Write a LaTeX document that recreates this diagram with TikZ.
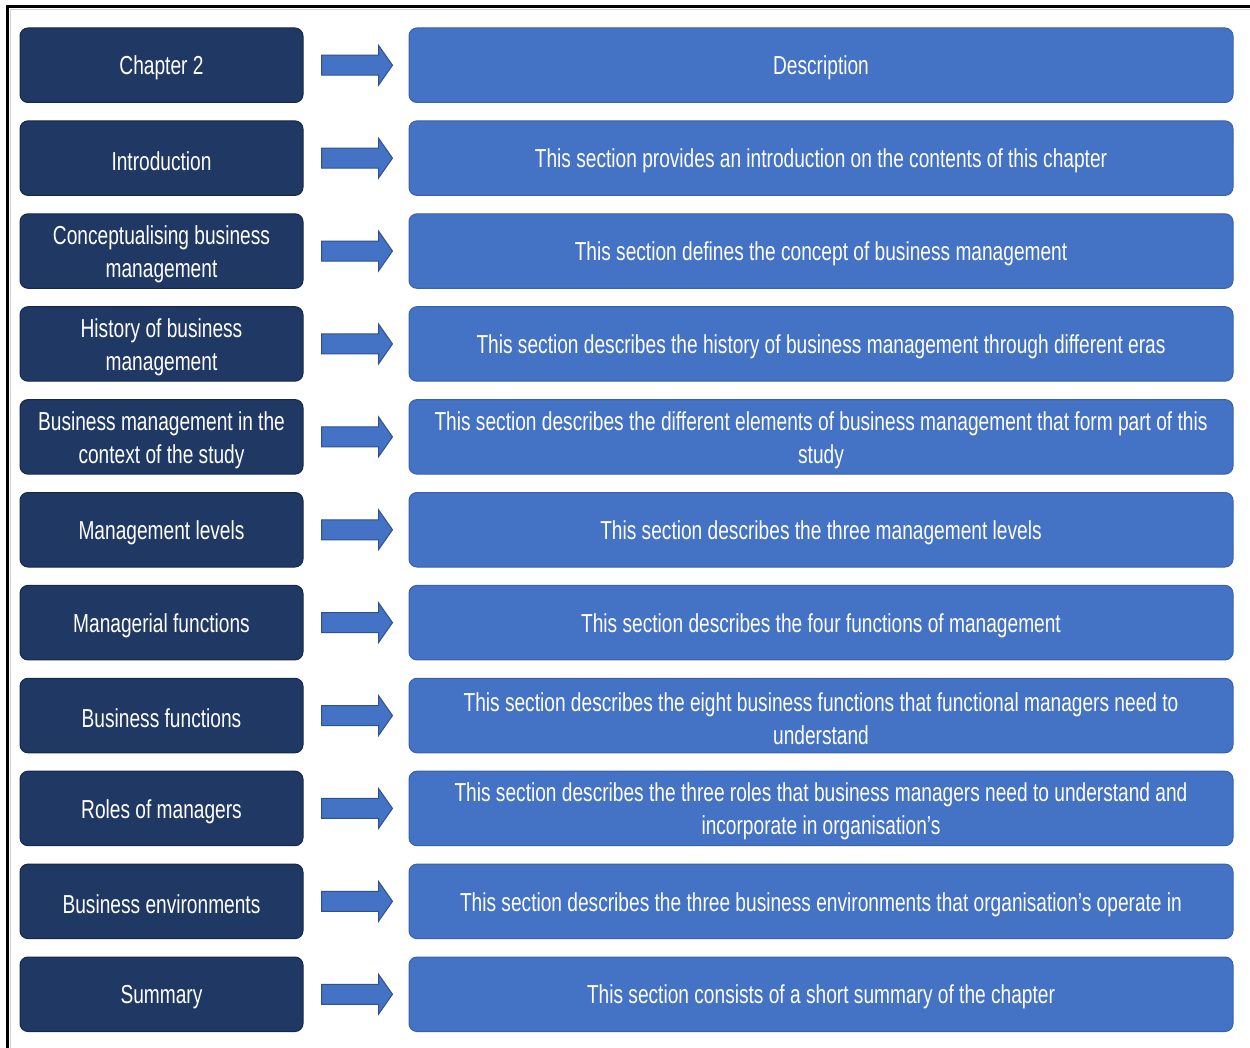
\documentclass[tikz,border=0pt]{standalone}
\usepackage{fontspec}
\setmainfont{Liberation Sans}[FakeStretch=0.736]
\usetikzlibrary{calc}
\definecolor{navy}{RGB}{32,56,100}
\definecolor{navyedge}{RGB}{22,40,74}
\definecolor{mainblue}{RGB}{68,114,196}
\definecolor{blueedge}{RGB}{56,98,176}
\definecolor{arrowedge}{RGB}{47,82,143}
\tikzset{
  box/.style={rounded corners=8pt, inner sep=0pt, minimum height=74.5pt, line width=1pt},
  topic/.style={box, fill=navy, draw=navyedge, minimum width=283pt},
  detail/.style={box, fill=mainblue, draw=blueedge, minimum width=824pt},
  boxtext/.style={inner sep=0pt, align=center, text=white, font=\fontsize{26}{33}\selectfont},
  blockarrow/.style={fill=mainblue, draw=arrowedge, line width=1pt, line join=miter},
  frame/.style={line width=3pt, line cap=rect}
}
% one row: chapter section, block arrow, description
\newcommand{\chapterrow}[3]{%
  \node[topic] (t#1) at (161.5,{65.25+92.9*(#1-1)}) {};
  \node[detail] (d#1) at (821,{65.25+92.9*(#1-1)}) {};
  \node[boxtext] (tt#1) at ([yshift=-3pt]t#1.center) {#2};
  \node[boxtext] (dt#1) at ([yshift=-3pt]d#1.center) {#3};
  \draw[blockarrow] ($(t#1.east)+(18,-10)$) -- ++(57,0) -- ++(0,-10)
    -- ++(14,20) -- ++(-14,20) -- ++(0,-10) -- ++(-57,0) -- cycle;
}
\begin{document}
\begin{tikzpicture}[x=1pt,y=-1pt]
\useasboundingbox (0,0) rectangle (1250,1048);
\fill[white] (0,0) rectangle (1250,1048);
% outer frame (top and left edges)
\draw[gray!35, line width=1pt] (10,1048) -- (10,10) -- (1250,10);
\draw[frame] (7.5,1048) -- (7.5,6.5) -- (1250,6.5);

\chapterrow{1}{Chapter 2}{Description}
\chapterrow{2}{Introduction}{This section provides an introduction on the contents of this chapter}
\chapterrow{3}{Conceptualising business\\management}{This section defines the concept of business management}
\chapterrow{4}{History of business\\management}{This section describes the history of business management through different eras}
\chapterrow{5}{Business management in the\\context of the study}{This section describes the different elements of business management that form part of this\\study}
\chapterrow{6}{Management levels}{This section describes the three management levels}
\chapterrow{7}{Managerial functions}{This section describes the four functions of management}
\chapterrow{8}{Business functions}{This section describes the eight business functions that functional managers need to\\understand}
\chapterrow{9}{Roles of managers}{This section describes the three roles that business managers need to understand and\\incorporate in organisation’s}
\chapterrow{10}{Business environments}{This section describes the three business environments that organisation’s operate in}
\chapterrow{11}{Summary}{This section consists of a short summary of the chapter}
\end{tikzpicture}
\end{document}
